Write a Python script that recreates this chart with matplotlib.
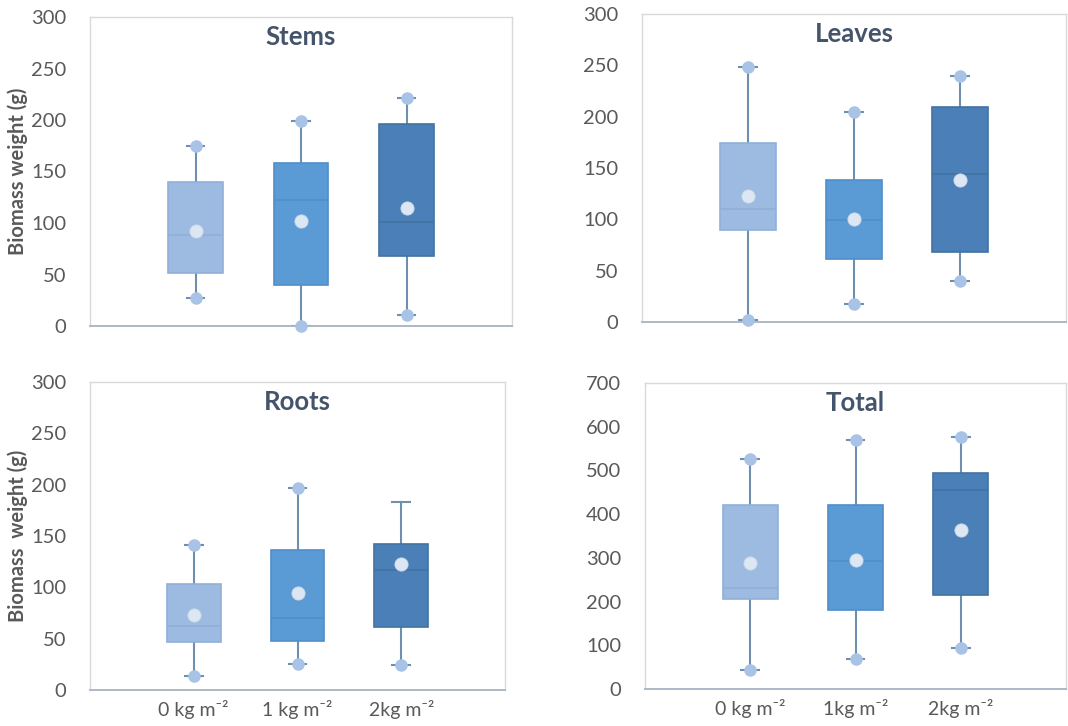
import matplotlib
matplotlib.use("Agg")
import matplotlib.pyplot as plt
import numpy as np

plt.rcParams['font.family'] = ['Lato', 'DejaVu Sans']

# Data (g)
groups = ['0 kg m⁻²', '1 kg m⁻²', '2kg m⁻²']
groups_total = ['0 kg m⁻²', '1kg m⁻²', '2kg m⁻²']

stems_low = [27, 0, 11]
stems_q1 = [51, 40, 68]
stems_med = [88, 122, 101]
stems_q3 = [140, 158, 196]
stems_high = [175, 199, 221]
stems_mean = [92, 102, 115]

leaves_low = [2, 18, 40]
leaves_q1 = [90, 61, 68]
leaves_med = [110, 99, 144]
leaves_q3 = [174, 138, 209]
leaves_high = [248, 205, 240]
leaves_mean = [123, 100, 138]

roots_low = [14, 25, 24]
roots_q1 = [47, 48, 61]
roots_med = [62, 70, 117]
roots_q3 = [103, 136, 142]
roots_high = [141, 197, 183]
roots_mean = [73, 94, 123]
roots_top_dot = [True, True, False]

total_low = [44, 68, 93]
total_q1 = [207, 180, 214]
total_med = [232, 292, 456]
total_q3 = [421, 421, 494]
total_high = [526, 570, 576]
total_mean = [288, 294, 364]

box_colors = ['#9dbbe1', '#5b9bd5', '#4a80b7']
edge_colors = ['#8fb0d9', '#4f8ec9', '#41739f']
whisker_col = '#6f8fae'
dot_col = '#a9c3e6'
mean_col = '#dde7f3'
text_col = '#595959'


def draw_panel(ax, title, low, q1, med, q3, high, mean, ymax, ystep,
               labels=None, ylabel=None, top_dot=None):
    stats = []
    for i in range(3):
        stats.append({'whislo': low[i], 'q1': q1[i], 'med': med[i],
                      'q3': q3[i], 'whishi': high[i], 'mean': mean[i]})
    pos = [1, 2, 3]
    bp = ax.bxp(stats, positions=pos, widths=0.52, patch_artist=True,
                showmeans=False, showfliers=False, capwidths=0.17)
    for i, b in enumerate(bp['boxes']):
        b.set_facecolor(box_colors[i])
        b.set_edgecolor(edge_colors[i])
        b.set_linewidth(1.2)
        b.set_zorder(2)
    for i, m in enumerate(bp['medians']):
        m.set_color(edge_colors[i])
        m.set_linewidth(1.2)
        m.set_zorder(3)
    for w in bp['whiskers']:
        w.set_color(whisker_col)
        w.set_linewidth(1.5)
        w.set_zorder(1)
    for c in bp['caps']:
        c.set_color(whisker_col)
        c.set_linewidth(1.5)
        c.set_zorder(1)

    if top_dot is None:
        top_dot = [True, True, True]
    ax.plot(pos, low, 'o', color=dot_col, ms=8, zorder=4, clip_on=False)
    hx = [p for p, t in zip(pos, top_dot) if t]
    hy = [h for h, t in zip(high, top_dot) if t]
    ax.plot(hx, hy, 'o', color=dot_col, ms=8, zorder=4, clip_on=False)
    ax.plot(pos, mean, 'o', color=mean_col, ms=9.5, mec='#cbd8ea', mew=0.6, zorder=5)

    ax.set_xlim(0, 4)
    ax.set_ylim(0, ymax)
    ax.set_yticks(np.arange(0, ymax + 1, ystep))
    ax.tick_params(axis='y', length=0, pad=17, labelsize=14.5, labelcolor=text_col)
    if labels:
        ax.set_xticks(pos)
        ax.set_xticklabels(labels)
        ax.tick_params(axis='x', length=0, pad=7, labelsize=14, labelcolor=text_col)
    else:
        ax.set_xticks([])
    for s in ['top', 'right', 'left']:
        ax.spines[s].set_color('#d9d9d9')
        ax.spines[s].set_linewidth(1.0)
    ax.spines['bottom'].set_color('#a7b3c4')
    ax.spines['bottom'].set_linewidth(1.3)
    ax.set_title(title, y=0.935, pad=0, fontsize=18.5, fontweight='bold', color='#44546a',
                 va='center')
    if ylabel:
        ax.set_ylabel(ylabel, fontsize=14.5, fontweight='bold', color=text_col, labelpad=2)


fig = plt.figure(figsize=(10.68, 7.26), dpi=100)
W, H = 1068, 726


def add_ax(left, top, right, bottom):
    return fig.add_axes([left / W, 1 - bottom / H, (right - left) / W, (bottom - top) / H])


ax1 = add_ax(90, 17, 512, 326)
ax2 = add_ax(642, 14, 1066, 322)
ax3 = add_ax(90, 382, 505, 690)
ax4 = add_ax(645, 383, 1066, 689)

draw_panel(ax1, 'Stems', stems_low, stems_q1, stems_med, stems_q3, stems_high,
           stems_mean, 300, 50, ylabel='Biomass weight (g)')
draw_panel(ax2, 'Leaves', leaves_low, leaves_q1, leaves_med, leaves_q3, leaves_high,
           leaves_mean, 300, 50)
draw_panel(ax3, 'Roots', roots_low, roots_q1, roots_med, roots_q3, roots_high,
           roots_mean, 300, 50, labels=groups, ylabel='Biomass  weight (g)',
           top_dot=roots_top_dot)
draw_panel(ax4, 'Total', total_low, total_q1, total_med, total_q3, total_high,
           total_mean, 700, 100, labels=groups_total)

fig.savefig('out.png', dpi=100, facecolor='white')
